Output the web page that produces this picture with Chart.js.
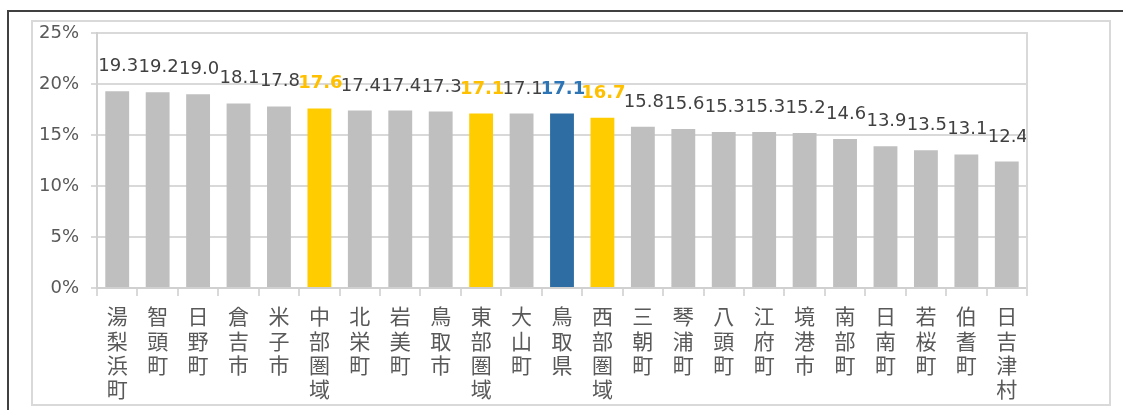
<!DOCTYPE html>
<html lang="ja">
<head>
    <meta charset="UTF-8">
    <title>鳥取県 市町村別</title>
    <script src="https://cdn.jsdelivr.net/npm/chart.js@4.4.0/dist/chart.umd.min.js"></script>
    <style>
        body { margin: 0; background: #fff; width: 1123px; height: 410px; overflow: hidden; position: relative; }
        .outer { position: absolute; left: 7px; top: 10px; width: 1200px; height: 500px; border-top: 2px solid #404040; border-left: 2px solid #404040; }
        .inner { position: absolute; left: 31px; top: 20px; width: 1076px; height: 382px; border: 2px solid #d9d9d9; }
        .inner canvas { display: block; }
    </style>
</head>
<body>
    <div class="outer"></div>
    <div class="inner"><canvas id="rateChart" width="1076" height="382"></canvas></div>
    <script>
        const categories = ['湯梨浜町', '智頭町', '日野町', '倉吉市', '米子市', '中部圏域', '北栄町', '岩美町', '鳥取市', '東部圏域', '大山町', '鳥取県', '西部圏域', '三朝町', '琴浦町', '八頭町', '江府町', '境港市', '南部町', '日南町', '若桜町', '伯耆町', '日吉津村'];
        const values = [19.3, 19.2, 19.0, 18.1, 17.8, 17.6, 17.4, 17.4, 17.3, 17.1, 17.1, 17.1, 16.7, 15.8, 15.6, 15.3, 15.3, 15.2, 14.6, 13.9, 13.5, 13.1, 12.4];
        const areaNames = ['中部圏域', '東部圏域', '西部圏域'];
        const prefName = '鳥取県';
        const yTicks = [0, 5, 10, 15, 20, 25];

        function barColor(name) {
            if (name === prefName) return '#2e6da4';
            if (areaNames.includes(name)) return '#ffcc00';
            return '#bfbfbf';
        }
        function labelStyle(name) {
            if (name === prefName) return { color: '#2e75b6', bold: true };
            if (areaNames.includes(name)) return { color: '#ffc000', bold: true };
            return { color: '#404040', bold: false };
        }

        // value labels above the bars
        const valueLabels = {
            id: 'valueLabels',
            afterDatasetsDraw(chart) {
                const ctx = chart.ctx;
                const meta = chart.getDatasetMeta(0);
                ctx.save();
                ctx.textAlign = 'center';
                ctx.textBaseline = 'alphabetic';
                meta.data.forEach((bar, i) => {
                    const st = labelStyle(categories[i]);
                    ctx.font = (st.bold ? 'bold ' : '') + '18px "DejaVu Sans"';
                    ctx.fillStyle = st.color;
                    ctx.fillText(values[i].toFixed(1), bar.x + 1, bar.y - 20);
                });
                ctx.restore();
            }
        };

        // right edge of the plot area
        const plotEdge = {
            id: 'plotEdge',
            afterDraw(chart) {
                const a = chart.chartArea;
                const ctx = chart.ctx;
                ctx.save();
                ctx.strokeStyle = '#d9d9d9';
                ctx.lineWidth = 2;
                ctx.beginPath();
                ctx.moveTo(a.right, a.top - 1);
                ctx.lineTo(a.right, a.bottom + 8);
                ctx.stroke();
                ctx.restore();
            }
        };

        new Chart(document.getElementById('rateChart'), {
            type: 'bar',
            data: {
                labels: categories.map(c => c.split('')),
                datasets: [{
                    data: values,
                    backgroundColor: categories.map(barColor),
                    barPercentage: 0.59,
                    categoryPercentage: 1.0
                }]
            },
            options: {
                responsive: false,
                animation: false,
                layout: { padding: { top: 11, right: 82, left: 0, bottom: 0 } },
                plugins: { legend: { display: false }, tooltip: { enabled: false } },
                scales: {
                    x: {
                        afterFit: s => { s.height = 116; s.paddingTop = 0; s.paddingBottom = 0; },
                        grid: { drawOnChartArea: false, color: '#d9d9d9', lineWidth: 2, tickLength: 8 },
                        border: { color: '#d0d0d0', width: 2 },
                        ticks: {
                            color: '#595959',
                            font: { family: '"Noto Sans CJK JP"', size: 21, lineHeight: 1.16 },
                            padding: 8,
                            maxRotation: 0,
                            autoSkip: false
                        }
                    },
                    y: {
                        min: 0,
                        max: 25,
                        afterFit: s => { s.width = 64; s.paddingTop = 0; s.paddingBottom = 0; },
                        afterBuildTicks: s => { s.ticks = yTicks.map(v => ({ value: v })); },
                        grid: { color: '#d9d9d9', lineWidth: 2, tickLength: 6 },
                        border: { color: '#d0d0d0', width: 2 },
                        ticks: {
                            color: '#595959',
                            font: { family: '"DejaVu Sans"', size: 18 },
                            padding: 12,
                            callback: v => v + '%'
                        }
                    }
                }
            },
            plugins: [valueLabels, plotEdge]
        });
    </script>
</body>
</html>
